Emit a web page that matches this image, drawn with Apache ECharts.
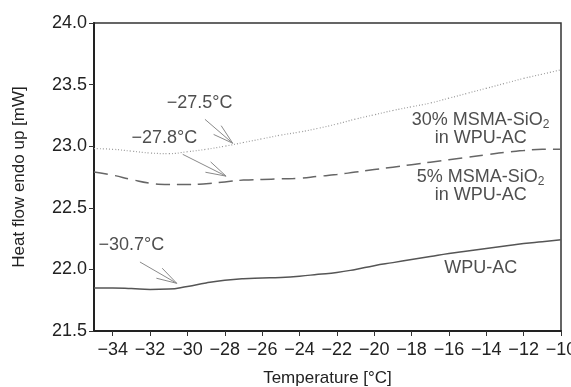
<!DOCTYPE html>
<html>
<head>
<meta charset="utf-8">
<script src="https://cdn.jsdelivr.net/npm/echarts@6/dist/echarts.min.js"></script>
<style>html,body{margin:0;padding:0;background:#fff}#c{width:571px;height:387px}</style>
</head>
<body>
<div id="c"></div>
<script>
var temps = [-35,-34,-33,-32,-31,-30,-29,-28,-27,-26,-25,-24,-23,-22,-21,-20,-19,-18,-17,-16,-15,-14,-13,-12,-11,-10];
var wpuAC = [21.85,21.85,21.845,21.837,21.84,21.862,21.89,21.912,21.925,21.93,21.935,21.945,21.96,21.975,22.0,22.03,22.055,22.08,22.105,22.13,22.15,22.17,22.19,22.21,22.225,22.24];
var msma5 = [22.79,22.765,22.73,22.70,22.69,22.69,22.695,22.71,22.725,22.73,22.735,22.74,22.755,22.77,22.79,22.81,22.83,22.85,22.87,22.89,22.91,22.93,22.95,22.965,22.975,22.975];
var msma30 = [22.98,22.975,22.96,22.945,22.94,22.955,22.975,23.0,23.03,23.06,23.09,23.115,23.145,23.18,23.22,23.255,23.29,23.32,23.35,23.39,23.43,23.47,23.51,23.55,23.585,23.62];
var xTicks = [-34,-32,-30,-28,-26,-24,-22,-20,-18,-16,-14,-12,-10];
var yTicks = [21.5,22.0,22.5,23.0,23.5,24.0];
// annotations: text, text position, arrow [start x, start y, tip x, tip y]
var annoText = ['\u221230.7\u00B0C','\u221227.8\u00B0C','\u221227.5\u00B0C'];
var annoTextPos = [[-33.0,22.195],[-31.23,23.07],[-29.35,23.348]];
var annoArrow = [[-32.54,22.06,-30.57,21.887],[-30.25,22.934,-27.93,22.757],[-29.06,23.218,-27.575,23.024]];
// series labels
var seriesLabels = ['{a|30% MSMA-SiO}{s|2}\n{a|in WPU-AC}','{a|5% MSMA-SiO}{s|2}\n{a|in WPU-AC}','{a|WPU-AC}'];
var seriesLabelPos = [[-14.3,23.14],[-14.3,22.68],[-14.3,22.01]];

var font = 'Liberation Sans, Arial, sans-serif';
function pairs(ys){ return temps.map(function(t,i){return [t, ys[i]];}); }
function fmtX(v){ return v < 0 ? '\u2212' + Math.abs(v) : String(v); }

var chart = echarts.init(document.getElementById('c'), null, {renderer:'canvas'});
chart.setOption({
  animation:false,
  backgroundColor:'#fff',
  grid:{left:94,right:10,top:23,bottom:56,outerBoundsMode:'none',containLabel:false,show:true,borderColor:'#333',borderWidth:1.5},
  xAxis:{
    type:'value',min:-35,max:-10,
    name:'Temperature [\u00B0C]',nameLocation:'middle',nameGap:39,
    nameTextStyle:{fontFamily:font,fontSize:17,color:'#222'},
    axisLine:{show:true,onZero:false,lineStyle:{color:'#222',width:2}},
    axisTick:{show:true,length:5,customValues:xTicks,lineStyle:{color:'#333',width:1}},
    axisLabel:{customValues:xTicks,formatter:fmtX,fontFamily:font,fontSize:18,color:'#222',margin:10,hideOverlap:false},
    splitLine:{show:false}
  },
  yAxis:{
    type:'value',min:21.5,max:24,interval:0.5,
    name:'Heat flow endo up [mW]',nameLocation:'middle',nameGap:66,
    nameTextStyle:{fontFamily:font,fontSize:17,color:'#222'},
    axisLine:{show:true,onZero:false,lineStyle:{color:'#222',width:2}},
    axisTick:{show:true,length:5,lineStyle:{color:'#333',width:1}},
    axisLabel:{formatter:function(v){return v.toFixed(1);},fontFamily:font,fontSize:18,color:'#222',margin:7},
    splitLine:{show:false}
  },
  series:[
    {type:'line',data:pairs(msma30),smooth:true,symbol:'none',lineStyle:{color:'#9a9a9a',width:1.2,type:[1,2]}},
    {type:'line',data:pairs(msma5),smooth:true,symbol:'none',lineStyle:{color:'#666',width:1.5,type:[14,7]}},
    {type:'line',data:pairs(wpuAC),smooth:true,symbol:'none',lineStyle:{color:'#555',width:1.5}},
    {type:'custom',coordinateSystem:'cartesian2d',silent:true,
     data:annoArrow,
     renderItem:function(params,api){
       var p0 = api.coord([api.value(0),api.value(1)]);
       var p1 = api.coord([api.value(2),api.value(3)]);
       var ang = Math.atan2(p0[1]-p1[1], p0[0]-p1[0]);
       var L = 21, h = 16*Math.PI/180;
       var a = [p1[0]+L*Math.cos(ang+h), p1[1]+L*Math.sin(ang+h)];
       var b = [p1[0]+L*Math.cos(ang-h), p1[1]+L*Math.sin(ang-h)];
       var st = {stroke:'#8a8a8a',lineWidth:1,fill:null};
       return {type:'group',children:[
         {type:'line',shape:{x1:p0[0],y1:p0[1],x2:p1[0],y2:p1[1]},style:st},
         {type:'polyline',shape:{points:[a,p1,b]},style:st}
       ]};
     }},
    {type:'scatter',symbolSize:0,silent:true,
     data:annoTextPos.map(function(p,i){return {value:p,label:{formatter:annoText[i]}};}),
     label:{show:true,position:'inside',fontFamily:font,fontSize:18,color:'#222'}},
    {type:'scatter',symbolSize:0,silent:true,
     data:seriesLabelPos.map(function(p,i){return {value:p,label:{formatter:seriesLabels[i]}};}),
     label:{show:true,position:'inside',align:'center',
       rich:{a:{fontFamily:font,fontSize:18,color:'#222',lineHeight:18},
             s:{fontFamily:font,fontSize:12,color:'#222',padding:[10,0,0,0],lineHeight:18}}}}
  ]
});
</script>
</body>
</html>
